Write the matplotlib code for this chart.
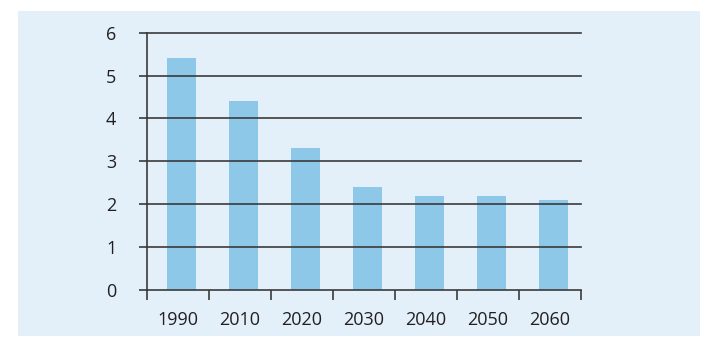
import numpy as np
import matplotlib.pyplot as plt
from matplotlib.patches import Rectangle

years = ["1990", "2010", "2020", "2030", "2040", "2050", "2060"]
values = [5.4, 4.4, 3.3, 2.4, 2.2, 2.2, 2.1]
y_ticks = [0, 1, 2, 3, 4, 5, 6]

panel_color = "#e3f0fa"
bar_color = "#8dc8e8"
line_color = "#3a3a3a"
text_color = "#231f20"

plt.rcParams['font.family'] = ['Open Sans', 'DejaVu Sans']

fig = plt.figure(figsize=(7.2, 3.49), dpi=100)
fig.patch.set_facecolor("white")

# light blue panel behind the chart
fig.patches.append(Rectangle((0.025, 0.037), 0.947, 0.931,
                             transform=fig.transFigure, facecolor=panel_color,
                             edgecolor="none", zorder=0))

ax = fig.add_axes([0.2042, 0.169, 0.6027, 0.7373])
ax.set_zorder(2)
ax.set_facecolor("none")

x = np.arange(len(years))
ax.bar(x + 0.05, values, width=0.47, color=bar_color, zorder=2)

ax.set_xlim(-0.5, len(years) - 0.5)
ax.set_ylim(0, 6)

# horizontal grid lines at each integer
for v in y_ticks[1:]:
    ax.axhline(v, color=line_color, lw=1.2, zorder=3, clip_on=False)

ax.set_yticks(y_ticks)
ax.set_yticklabels([str(v) for v in y_ticks])
ax.tick_params(axis="y", length=6, width=1.2, color=line_color, pad=16,
               labelsize=13, labelcolor=text_color)

# ticks on category boundaries, labels at centers
ax.set_xticks(np.arange(len(years) + 1) - 0.5)
ax.set_xticklabels([])
ax.set_xticks(x, minor=True)
ax.set_xticklabels(years, minor=True)
ax.tick_params(axis="x", which="major", length=7, width=1.2, color=line_color)
ax.tick_params(axis="x", which="minor", length=0, pad=15,
               labelsize=13, labelcolor=text_color)

for side in ["top", "right"]:
    ax.spines[side].set_visible(False)
for side in ["left", "bottom"]:
    ax.spines[side].set_color(line_color)
    ax.spines[side].set_linewidth(1.2)
    ax.spines[side].set_zorder(4)

fig.savefig("out.png", dpi=100)
